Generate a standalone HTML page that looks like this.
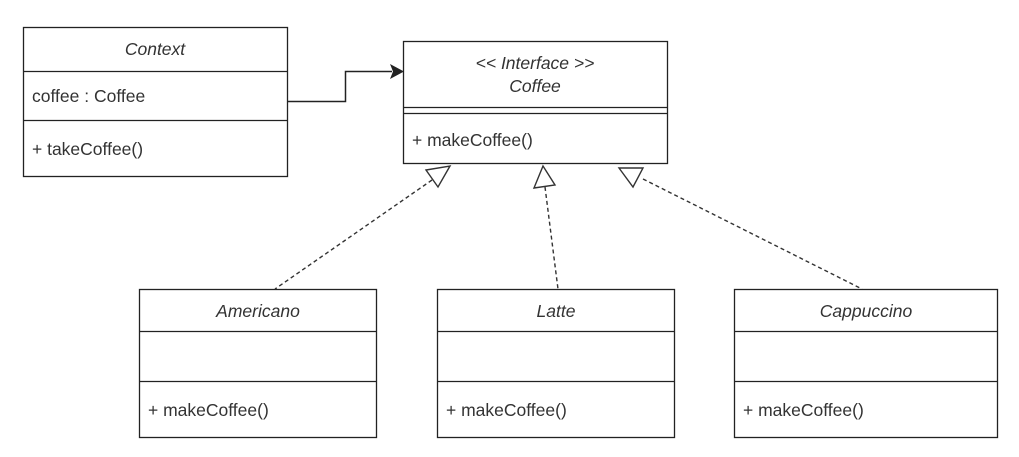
<!DOCTYPE html>
<html><head><meta charset="utf-8"><style>
html,body{margin:0;padding:0;background:#fff;}
svg text{font-family:"Liberation Sans",Arial,sans-serif;font-size:17.5px;fill:#333;}
</style></head><body>
<svg width="1019" height="452" xmlns="http://www.w3.org/2000/svg">
<g fill="#fff" stroke="#222" stroke-width="1.3">
<rect x="23.5" y="27.5" width="264" height="149"/>
<line x1="23.5" y1="71.5" x2="287.5" y2="71.5"/>
<line x1="23.5" y1="120.5" x2="287.5" y2="120.5"/>
<rect x="403.5" y="41.5" width="264" height="122"/>
<line x1="403.5" y1="107.5" x2="667.5" y2="107.5"/>
<line x1="403.5" y1="113.5" x2="667.5" y2="113.5"/>
<rect x="139.5" y="289.5" width="237" height="148"/>
<line x1="139.5" y1="331.5" x2="376.5" y2="331.5"/>
<line x1="139.5" y1="381.5" x2="376.5" y2="381.5"/>
<rect x="437.5" y="289.5" width="237" height="148"/>
<line x1="437.5" y1="331.5" x2="674.5" y2="331.5"/>
<line x1="437.5" y1="381.5" x2="674.5" y2="381.5"/>
<rect x="734.5" y="289.5" width="263" height="148"/>
<line x1="734.5" y1="331.5" x2="997.5" y2="331.5"/>
<line x1="734.5" y1="381.5" x2="997.5" y2="381.5"/>
</g>
<polyline points="288,101.5 345.5,101.5 345.5,71.5 392,71.5" fill="none" stroke="#222" stroke-width="1.5"/>
<polygon points="390,64 404,71.5 390,79 393,71.5" fill="#222"/>
<g stroke="#333" stroke-width="1.4" stroke-dasharray="4,3" fill="none">
<line x1="432" y1="180" x2="275" y2="289"/>
<line x1="545" y1="187" x2="558" y2="289"/>
<line x1="643" y1="179" x2="862" y2="289"/>
</g>
<g stroke="#333" stroke-width="1.4" fill="#fff">
<polygon points="426,170 450,166 438,187"/>
<polygon points="534,188 555,185 543,166"/>
<polygon points="619,168 643,168 633,187"/>
</g>
<text x="155" y="55" text-anchor="middle" font-style="italic">Context</text>
<text x="32" y="102">coffee : Coffee</text>
<text x="32" y="155">+ takeCoffee()</text>
<text x="535" y="69" text-anchor="middle" font-style="italic">&lt;&lt; Interface &gt;&gt;</text>
<text x="535" y="92" text-anchor="middle" font-style="italic">Coffee</text>
<text x="412" y="146">+ makeCoffee()</text>
<text x="258" y="317" text-anchor="middle" font-style="italic">Americano</text>
<text x="148" y="416">+ makeCoffee()</text>
<text x="556" y="317" text-anchor="middle" font-style="italic">Latte</text>
<text x="446" y="416">+ makeCoffee()</text>
<text x="866" y="317" text-anchor="middle" font-style="italic">Cappuccino</text>
<text x="743" y="416">+ makeCoffee()</text>
</svg>
</body></html>
